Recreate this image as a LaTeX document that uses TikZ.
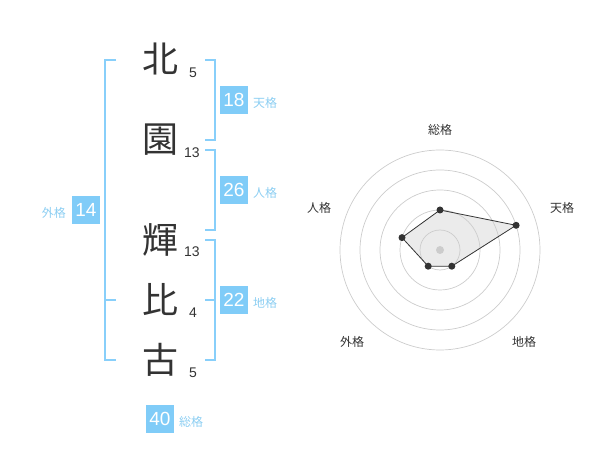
\documentclass[tikz,border=0pt]{standalone}
\usepackage{fontspec}
\setmainfont{Liberation Sans}
\newfontfamily\cjk{Noto Sans CJK JP}
\definecolor{boxblue}{HTML}{80CCF8}
\definecolor{lblblue}{HTML}{8CCEF2}
\definecolor{brk}{HTML}{88CFFA}
\definecolor{ink}{HTML}{333333}
\definecolor{ring}{HTML}{CCCCCC}
\begin{document}
\begin{tikzpicture}[x=1pt,y=-1pt,
  kanji/.style={font=\cjk\fontsize{36}{36}\selectfont, text=ink, inner sep=0},
  strokes/.style={font=\fontsize{14}{14}\selectfont, text=ink, inner sep=0},
  numbox/.style={fill=boxblue, text=white, minimum width=28pt, minimum height=28pt, inner sep=0, font=\fontsize{19}{19}\selectfont},
  kaku/.style={font=\cjk\fontsize{12}{12}\selectfont, text=lblblue, inner sep=0},
  radlbl/.style={font=\cjk\fontsize{12}{12}\selectfont, text=ink, inner sep=0},
  bracket/.style={draw=brk, line width=1.5pt},
  ringline/.style={draw=ring, line width=0.7pt},
  vdot/.style={circle, fill=ink, minimum size=7pt, inner sep=0}
]
\useasboundingbox (0,0) rectangle (600,470);
% characters
\node[kanji] (c1) at (160,59) {北};
\node[kanji] (c2) at (160,140) {園};
\node[kanji] (c3) at (160,240) {輝};
\node[kanji] (c4) at (160,300) {比};
\node[kanji] (c5) at (160,360) {古};
\node[strokes] (s1) at (193,73) {5};
\node[strokes] (s2) at (192,153) {13};
\node[strokes] (s3) at (192,252) {13};
\node[strokes] (s4) at (193,313) {4};
\node[strokes] (s5) at (193,373) {5};
% left bracket
\draw[bracket] (116,60) -- (105,60) -- (105,360) -- (116,360);
\draw[bracket] (105,300) -- (116,300);
% right brackets
\draw[bracket] (205,60) -- (215,60) -- (215,140) -- (205,140);
\draw[bracket] (205,150) -- (215,150) -- (215,230) -- (205,230);
\draw[bracket] (205,240) -- (215,240) -- (215,360) -- (205,360);
\draw[bracket] (205,300) -- (215,300);
% boxes
\node[numbox] (ten) at (234,100) {18};
\node[kaku, anchor=west] (tenl) at (253,103) {天格};
\node[numbox] (jin) at (234,190) {26};
\node[kaku, anchor=west] (jinl) at (253,193) {人格};
\node[numbox] (chi) at (234,300) {22};
\node[kaku, anchor=west] (chil) at (253,303) {地格};
\node[numbox] (gai) at (86,210) {14};
\node[kaku, anchor=east] (gail) at (66,213) {外格};
\node[numbox] (sou) at (160,419) {40};
\node[kaku, anchor=west] (soul) at (179,422) {総格};
% radar
\coordinate (ctr) at (440,250);
\foreach \r in {20,40,60,80,100} \draw[ringline] (ctr) circle (\r);
\fill[ring] (ctr) circle (4);
\coordinate (p1) at (440,210);
\coordinate (p2) at (516.1,225.3);
\coordinate (p3) at (451.8,266.2);
\coordinate (p4) at (428.2,266.2);
\coordinate (p5) at (402.0,237.6);
\fill[black!20, opacity=0.4] (p1) -- (p2) -- (p3) -- (p4) -- (p5) -- cycle;
\draw[ink, line width=0.8pt] (p1) -- (p2) -- (p3) -- (p4) -- (p5) -- cycle;
\foreach \p in {p1,p2,p3,p4,p5} \node[vdot] at (\p) {};
\node[radlbl] (r1) at (440,130) {総格};
\node[radlbl] (r2) at (562,208) {天格};
\node[radlbl] (r3) at (524,342) {地格};
\node[radlbl] (r4) at (352,342) {外格};
\node[radlbl] (r5) at (319,208) {人格};
\end{tikzpicture}
\end{document}
